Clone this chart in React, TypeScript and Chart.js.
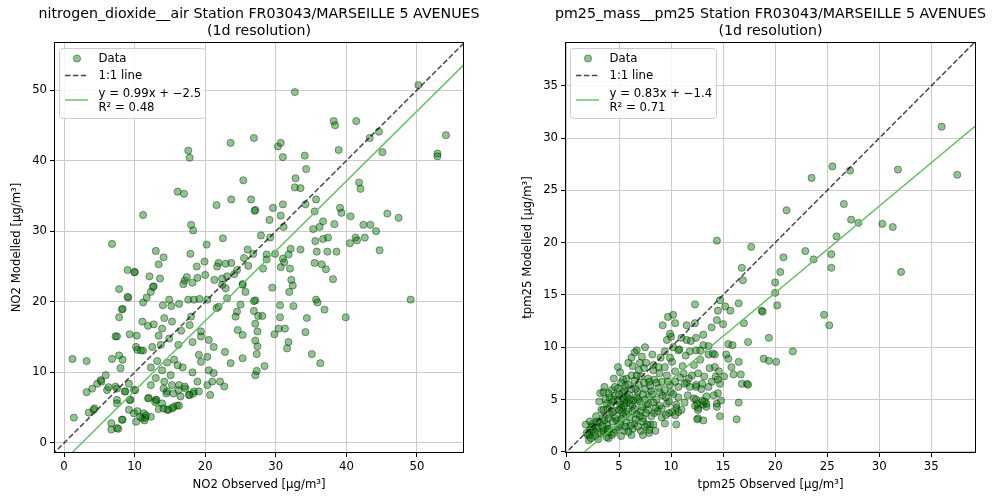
import { useEffect, useRef } from "react";
import { Chart, registerables } from "chart.js";

Chart.register(...registerables);

const FONT = "'DejaVu Sans', 'Liberation Sans', sans-serif";

// ---------- data ----------
const no2Ticks = [0, 10, 20, 30, 40, 50];
const pm25Ticks = [0, 5, 10, 15, 20, 25, 30, 35];

const no2Fit = { slope: 0.99, intercept: -2.5, r2: 0.48 };
const pm25Fit = { slope: 0.83, intercept: -1.4, r2: 0.71 };

// [observed, modelled]
const no2Points: [number, number][] = [
  [32.7, 49.7], [50.2, 50.7], [38.2, 45.6], [38.4, 45.0], [41.4, 45.6], [44.6, 44.1], [43.3, 43.2], [54.1, 43.6],
  [52.9, 41.0], [52.9, 40.6], [45.1, 41.2], [38.9, 41.5], [30.3, 42.0], [30.7, 42.5], [31.0, 40.5], [34.1, 40.7],
  [34.3, 38.8], [32.8, 37.5], [32.7, 36.2], [33.5, 36.1], [41.8, 36.9], [42.0, 36.0], [35.7, 34.5], [34.2, 33.8],
  [35.5, 32.8], [31.0, 33.8], [29.6, 33.3], [30.7, 32.2], [29.1, 31.6], [31.1, 30.6], [27.9, 29.4], [29.2, 29.1],
  [27.1, 33.0], [26.9, 43.2], [39.1, 33.3], [39.3, 32.6], [40.6, 32.1], [38.3, 31.0], [36.7, 31.4], [36.2, 30.6],
  [35.3, 30.3], [42.4, 30.9], [43.4, 30.9], [44.2, 30.0], [45.8, 32.5], [47.4, 31.9], [41.3, 29.1], [42.6, 29.1],
  [41.5, 28.7], [40.5, 28.3], [44.7, 27.3], [35.6, 28.6], [36.7, 28.9], [37.4, 29.1], [33.5, 27.4], [35.8, 27.1],
  [37.3, 27.1], [38.6, 27.1], [32.1, 27.5], [31.8, 26.7], [31.0, 26.1], [31.2, 25.6], [30.7, 24.9], [32.0, 24.7],
  [29.9, 26.8], [28.7, 26.7], [28.7, 26.0], [28.2, 24.7], [35.5, 25.5], [36.5, 25.3], [37.1, 24.6], [38.1, 23.2],
  [32.2, 23.1], [32.4, 22.3], [31.9, 21.4], [29.5, 22.0], [27.1, 20.2], [30.6, 19.5], [32.5, 19.4], [35.7, 20.3],
  [35.9, 19.9], [36.9, 18.9], [49.1, 20.3], [39.9, 17.8], [27.5, 18.0], [28.1, 18.0], [27.1, 16.9], [27.4, 15.8],
  [27.1, 14.5], [27.4, 13.7], [27.3, 12.6], [27.1, 9.6], [27.3, 10.2], [30.6, 17.8], [34.4, 17.7], [30.4, 16.2],
  [29.8, 15.4], [31.3, 16.2], [34.2, 15.7], [31.8, 14.3], [31.6, 13.4], [35.1, 12.6], [36.3, 11.3], [28.4, 10.9],
  [17.6, 41.4], [17.8, 40.4], [23.6, 42.5], [25.4, 37.2], [16.1, 35.6], [17.0, 35.3], [23.7, 34.5], [26.5, 34.5],
  [27.0, 32.9], [21.6, 33.7], [11.2, 32.3], [18.0, 30.9], [18.3, 30.1], [22.5, 29.0], [20.2, 28.1], [6.8, 28.2],
  [13.0, 27.2], [14.1, 26.3], [13.4, 25.3], [17.9, 26.8], [18.8, 25.0], [19.9, 25.7], [9.0, 24.5], [10.0, 24.2],
  [12.1, 23.6], [13.6, 23.3], [17.1, 23.0], [17.4, 23.5], [16.9, 22.5], [18.2, 22.7], [18.9, 23.4], [20.0, 23.8],
  [21.9, 25.5], [21.7, 25.0], [22.9, 25.4], [23.7, 25.5], [26.0, 27.4], [26.8, 26.8], [25.5, 26.2], [26.1, 25.1],
  [24.5, 24.5], [24.1, 23.9], [23.1, 23.6], [22.4, 23.3], [21.3, 23.1], [25.3, 22.5], [12.7, 22.2], [7.8, 21.8],
  [9.1, 20.6], [11.2, 19.9], [11.7, 20.6], [12.3, 21.4], [12.6, 22.1], [8.3, 19.0], [7.8, 17.8], [14.0, 19.5],
  [14.9, 20.3], [15.2, 19.4], [16.3, 19.7], [17.6, 20.3], [18.4, 20.3], [19.2, 20.4], [20.3, 20.3], [21.6, 19.1],
  [21.9, 19.3], [23.1, 20.5], [22.9, 21.9], [22.4, 22.4], [24.5, 18.6], [24.3, 17.9], [25.0, 19.6], [25.7, 21.4],
  [25.3, 22.4], [26.9, 20.1], [26.9, 18.7], [24.6, 16.0], [25.3, 15.3], [25.3, 12.0], [23.6, 11.3], [22.8, 12.9],
  [11.1, 17.2], [11.9, 16.6], [12.7, 16.8], [13.9, 16.2], [14.2, 17.7], [15.3, 17.2], [16.6, 15.9], [17.8, 16.7],
  [18.0, 17.9], [19.4, 15.8], [7.3, 15.1], [9.3, 15.4], [10.3, 15.2], [10.2, 13.6], [11.2, 13.1], [12.5, 13.6],
  [13.7, 13.9], [13.4, 15.2], [14.9, 14.8], [16.2, 13.9], [18.2, 14.3], [19.4, 15.1], [20.5, 14.6], [21.2, 13.6],
  [1.2, 11.9], [3.2, 11.6], [6.8, 11.9], [7.8, 12.4], [8.3, 11.8], [8.0, 10.6], [10.4, 13.2], [10.9, 13.1],
  [12.3, 10.7], [13.2, 11.6], [13.9, 10.3], [14.6, 11.4], [15.1, 9.6], [15.6, 11.8], [16.1, 11.0], [16.8, 10.7],
  [18.2, 10.0], [19.1, 12.5], [19.4, 11.5], [20.3, 12.2], [20.5, 10.3], [21.2, 9.9], [18.9, 8.7], [20.3, 8.2],
  [22.1, 8.7], [22.7, 8.0], [5.9, 9.6], [5.2, 8.9], [4.7, 8.4], [4.0, 7.7], [3.2, 7.2], [7.3, 8.0],
  [6.1, 7.5], [7.5, 6.1], [8.7, 7.3], [9.2, 8.4], [9.9, 7.5], [9.4, 6.1], [12.3, 8.2], [13.0, 9.2],
  [14.2, 8.7], [14.6, 7.3], [15.3, 8.2], [16.3, 8.2], [17.2, 7.7], [17.7, 6.8], [18.4, 7.3], [16.5, 6.6],
  [12.0, 6.4], [13.0, 6.1], [13.9, 5.6], [14.6, 4.7], [15.3, 4.9], [16.0, 5.3], [1.4, 3.6], [3.5, 4.3],
  [4.2, 4.7], [6.7, 2.8], [7.5, 2.1], [8.3, 3.3], [10.2, 3.0], [11.1, 3.5], [11.3, 4.2], [12.3, 3.7],
  [10.4, 4.5], [11.5, 3.6], [11.6, 3.9], [11.4, 3.2], [13.4, 4.8], [14.1, 4.9], [14.8, 4.7], [15.5, 5.1],
  [16.3, 5.3], [10.8, 3.7], [6.7, 1.9], [7.7, 2.0], [8.2, 3.3], [9.2, 4.7], [9.9, 4.2], [4.3, 4.9],
  [5.3, 8.7], [6.3, 7.9], [7.5, 7.7], [7.5, 5.6], [8.6, 7.3], [9.3, 6.1], [10.1, 7.5], [11.9, 6.3],
  [13.1, 6.1], [12.9, 5.8], [14.1, 7.7], [14.5, 7.0], [15.5, 7.0], [16.2, 7.5], [17.1, 8.0], [17.8, 6.8],
  [18.3, 7.0], [19.1, 7.3], [20.7, 6.8], [21.0, 8.7], [9.0, 20.7], [10.0, 24.2], [7.5, 15.1], [8.2, 18.9],
];

const pm25Points: [number, number][] = [
  [36.0, 31.1], [37.5, 26.5], [31.8, 27.0], [25.5, 27.3], [27.2, 26.9], [23.5, 26.2], [26.6, 23.7], [21.1, 23.1],
  [27.3, 22.2], [28.0, 21.9], [30.3, 21.8], [31.3, 21.5], [25.9, 20.6], [14.4, 20.2], [17.7, 19.6], [22.9, 19.2],
  [20.8, 18.6], [25.4, 18.9], [23.7, 18.4], [25.4, 17.6], [32.1, 17.2], [16.8, 17.6], [16.9, 16.4], [20.5, 17.2],
  [20.0, 16.2], [20.0, 15.2], [20.2, 14.0], [24.7, 13.1], [25.2, 12.1], [21.7, 9.6], [19.4, 10.9], [18.9, 8.9],
  [19.4, 8.7], [20.1, 8.6], [18.7, 13.5], [18.8, 13.4], [16.5, 14.2], [14.7, 14.5], [12.3, 14.1], [15.2, 13.9],
  [14.5, 13.5], [15.7, 13.5], [14.4, 12.6], [13.9, 11.9], [15.0, 12.2], [17.0, 12.3], [17.4, 10.5], [15.5, 10.3],
  [15.9, 10.2], [16.5, 8.6], [15.8, 8.1], [15.3, 9.3], [15.5, 8.9], [16.7, 7.4], [16.0, 7.4], [16.8, 6.5],
  [17.3, 6.5], [12.4, 6.2], [11.5, 6.6], [13.0, 6.5], [14.2, 8.1], [14.3, 7.2], [15.1, 7.2], [14.7, 6.5],
  [14.5, 5.6], [14.4, 4.6], [14.8, 4.9], [16.5, 4.7], [16.3, 3.1], [14.7, 3.4], [14.4, 4.3], [13.1, 4.5],
  [12.6, 4.2], [13.4, 4.3], [12.6, 3.2], [13.1, 3.0], [17.4, 6.4], [14.1, 5.4], [13.4, 4.6], [12.5, 4.6],
  [12.5, 3.1], [12.6, 4.0], [13.0, 4.9], [13.4, 5.3], [12.2, 5.1], [10.5, 2.6], [10.5, 4.2], [10.7, 3.8],
  [10.1, 3.8], [9.8, 3.7], [9.4, 2.7], [8.5, 2.0], [7.9, 1.8], [7.3, 1.6], [7.5, 2.4], [8.0, 2.6],
  [4.0, 1.3], [3.5, 1.8], [2.2, 1.6], [2.1, 1.1], [2.5, 2.1], [3.2, 5.6], [3.5, 5.7], [5.4, 5.6],
  [5.6, 4.9], [5.4, 4.3], [10.4, 12.3], [11.5, 12.1], [12.3, 12.3], [12.4, 10.9], [11.0, 10.9], [11.5, 10.7],
  [13.1, 10.2], [13.6, 10.1], [12.4, 9.7], [13.6, 9.3], [14.2, 9.3], [12.8, 8.8], [9.6, 10.7], [10.0, 11.0],
  [10.2, 10.0], [10.8, 9.8], [9.2, 12.1], [9.9, 11.3], [7.5, 10.0], [6.7, 9.7], [6.2, 9.0], [4.9, 8.1],
  [6.3, 8.2], [7.0, 8.5], [7.6, 8.5], [8.3, 8.3], [8.8, 8.1], [9.4, 8.1], [9.7, 12.9], [10.2, 13.1],
  [13.1, 11.2], [11.9, 10.6], [9.4, 9.6], [10.7, 9.7], [11.8, 9.6], [12.8, 9.7], [14.0, 9.4], [6.5, 9.5],
  [7.2, 9.1], [8.3, 7.8], [8.9, 7.5], [9.6, 7.3], [10.4, 7.7], [11.2, 7.5], [12.0, 7.3], [12.6, 7.5],
  [13.2, 7.2], [13.7, 8.0], [14.6, 7.7], [14.5, 6.9], [13.9, 6.7], [13.6, 6.2], [12.9, 6.0], [12.4, 6.4],
  [11.8, 6.2], [11.3, 6.5], [10.7, 6.2], [10.4, 6.7], [9.7, 6.7], [9.1, 6.7], [8.4, 6.9], [7.8, 7.0],
  [7.1, 7.2], [6.7, 7.3], [6.2, 7.3], [5.7, 7.0], [5.4, 6.9], [4.3, 5.9], [4.9, 6.1], [5.5, 5.8],
  [6.2, 6.0], [6.8, 5.7], [7.5, 6.0], [8.1, 5.8], [8.8, 6.1], [9.4, 5.9], [10.0, 5.7], [4.1, 5.2],
  [4.7, 5.4], [5.4, 5.1], [6.0, 5.4], [6.7, 5.2], [7.3, 5.5], [7.9, 5.3], [8.6, 5.0], [9.2, 5.4],
  [10.7, 5.2], [11.6, 5.4], [12.4, 5.0], [3.8, 4.6], [4.4, 4.8], [5.1, 4.5], [5.7, 4.7], [6.3, 4.4],
  [7.0, 4.8], [7.6, 4.5], [8.3, 4.7], [8.9, 4.4], [9.6, 4.6], [10.5, 4.5], [11.3, 4.7], [12.3, 4.4],
  [13.2, 4.8], [3.3, 4.0], [3.9, 4.1], [4.6, 3.9], [5.2, 4.2], [5.9, 3.8], [6.5, 4.1], [7.1, 3.9],
  [7.8, 4.0], [8.4, 3.7], [9.1, 4.1], [11.0, 4.0], [2.8, 3.4], [3.5, 3.3], [4.1, 3.6], [4.7, 3.2],
  [5.4, 3.5], [6.0, 3.3], [6.7, 3.6], [7.3, 3.2], [8.1, 3.4], [9.1, 3.3], [10.4, 3.5], [2.5, 2.7],
  [3.1, 2.8], [3.8, 2.6], [4.4, 2.9], [5.1, 2.6], [5.7, 2.8], [6.5, 2.7], [7.3, 2.9], [8.3, 2.6],
  [2.2, 2.1], [2.8, 2.2], [3.5, 2.0], [4.1, 2.2], [4.7, 2.1], [5.5, 2.0], [6.3, 2.2], [7.1, 2.0],
  [7.9, 2.1], [2.0, 1.6], [2.7, 1.5], [3.3, 1.7], [4.3, 1.6], [5.2, 1.5], [6.2, 1.6], [2.3, 1.3],
  [3.0, 1.2], [3.8, 1.4], [4.5, 5.0], [5.0, 5.5], [5.8, 5.2], [6.4, 4.9], [4.8, 3.0], [5.3, 3.8],
  [6.1, 2.5], [3.6, 3.0], [4.2, 4.4], [5.6, 6.3], [6.9, 6.4], [7.2, 4.3], [3.0, 2.4], [2.6, 1.9],
  [1.9, 1.8], [4.0, 1.9], [3.1, 4.8], [3.5, 4.0], [2.2, 2.9], [1.8, 2.6], [4.0, 5.6], [4.6, 6.2],
  [5.2, 6.6], [5.9, 6.4], [6.5, 6.8], [7.4, 6.6], [8.0, 6.3], [8.6, 6.6], [3.7, 5.0], [4.9, 4.9],
  [5.5, 4.4], [6.1, 4.6], [6.8, 5.0], [7.5, 5.0], [8.2, 5.5], [8.9, 5.7], [9.5, 5.2], [10.2, 5.5],
  [4.4, 3.8], [5.0, 4.0], [5.7, 3.6], [6.3, 3.9], [7.0, 3.4], [7.6, 3.7], [8.7, 3.9], [9.5, 3.5],
  [4.9, 2.4], [5.6, 2.4], [6.8, 2.4], [7.7, 2.6], [3.9, 2.2], [4.5, 1.8], [5.9, 1.9], [3.4, 2.5],
  [2.9, 2.9], [2.4, 2.4], [6.6, 6.0], [7.9, 6.7], [9.9, 6.4], [10.9, 7.1], [11.7, 7.0], [12.2, 8.3],
  [10.1, 8.6], [11.1, 8.2], [9.0, 9.0], [8.2, 9.3], [11.4, 9.2], [5.9, 8.5], [5.1, 7.6], [4.5, 7.0],
  [3.6, 6.2], [6.0, 5.0], [7.8, 4.6], [8.5, 4.2], [9.8, 4.8], [6.6, 3.1], [5.2, 3.1], [4.0, 3.2],
  [7.4, 8.0], [6.9, 7.8], [9.9, 9.0],
];

// ---------- panels ----------
type PanelDef = {
  title: [string, string];
  xLabel: string;
  yLabel: string;
  points: [number, number][];
  fit: { slope: number; intercept: number; r2: number };
  ticks: number[];
  xRange: [number, number];
  yRange: [number, number];
  canvasLeft: number;
  areaLeft: number;
  areaRight: number;
};

const W = 497;
const H = 500;
const AREA_TOP = 42;
const AREA_BOTTOM = 453;

const panels: PanelDef[] = [
  {
    title: ["nitrogen_dioxide__air Station FR03043/MARSEILLE 5 AVENUES", "(1d resolution)"],
    xLabel: "NO2 Observed [µg/m³]",
    yLabel: "NO2 Modelled [µg/m³]",
    points: no2Points,
    fit: no2Fit,
    ticks: no2Ticks,
    xRange: [-1.42, 56.66],
    yRange: [-1.42, 56.8],
    canvasLeft: 0,
    areaLeft: 54,
    areaRight: 464,
  },
  {
    title: ["pm25_mass__pm25 Station FR03043/MARSEILLE 5 AVENUES", "(1d resolution)"],
    xLabel: "tpm25 Observed [µg/m³]",
    yLabel: "tpm25 Modelled [µg/m³]",
    points: pm25Points,
    fit: pm25Fit,
    ticks: pm25Ticks,
    xRange: [-0.19, 39.3],
    yRange: [-0.12, 39.2],
    canvasLeft: 497,
    areaLeft: 68,
    areaRight: 479,
  },
];

const POINT_FILL = "rgba(0,128,0,0.45)";
const POINT_EDGE = "rgba(0,0,0,0.48)";
const FIT_COLOR = "rgb(108,192,108)";
const DIAG_COLOR = "rgba(0,0,0,0.72)";
const DASH = [5.5, 2.4];

function fmt(v: number) {
  const dec = String(v).includes(".") ? String(v).split(".")[1].length : 0;
  const s = Math.abs(v).toFixed(dec);
  return (v < 0 ? "−" : "") + s;
}

const decorPlugin = {
  id: "decor",
  afterDraw(chart: any, _args: any, opts: any) {
    const p: PanelDef = opts.panel;
    const { ctx, chartArea: a } = chart;
    ctx.save();
    // axes frame
    ctx.strokeStyle = "#000";
    ctx.lineWidth = 1;
    ctx.strokeRect(Math.round(a.left) + 0.5, Math.round(a.top) + 0.5, Math.round(a.right - a.left) - 1, Math.round(a.bottom - a.top) - 1);

    const cx = (a.left + a.right) / 2;
    ctx.fillStyle = "#000";
    ctx.textAlign = "center";
    ctx.textBaseline = "middle";
    ctx.font = `14.2px ${FONT}`;
    ctx.fillText(p.title[0], cx, 14);
    ctx.fillText(p.title[1], cx, 31.5);

    ctx.font = `11.7px ${FONT}`;
    ctx.fillText(p.xLabel, cx, 485);
    ctx.save();
    ctx.translate(a.left - 37.5, (a.top + a.bottom) / 2);
    ctx.rotate(-Math.PI / 2);
    ctx.fillText(p.yLabel, 0, 0);
    ctx.restore();

    // legend
    const bx = a.left + 5.5;
    const by = 48.5;
    const bw = 146;
    const bh = 70;
    ctx.beginPath();
    (ctx as any).roundRect(bx, by, bw, bh, 3);
    ctx.fillStyle = "rgba(255,255,255,0.8)";
    ctx.fill();
    ctx.strokeStyle = "#cccccc";
    ctx.lineWidth = 1;
    ctx.stroke();

    const lx0 = a.left + 11;
    const lx1 = a.left + 34;
    const tx = a.left + 44.5;

    // Data marker
    ctx.beginPath();
    ctx.arc(a.left + 23, 58.5, 3.6, 0, Math.PI * 2);
    ctx.fillStyle = POINT_FILL;
    ctx.fill();
    ctx.strokeStyle = POINT_EDGE;
    ctx.lineWidth = 0.8;
    ctx.stroke();

    // 1:1 dashed
    ctx.beginPath();
    ctx.setLineDash(DASH);
    ctx.moveTo(lx0, 75.5);
    ctx.lineTo(lx1, 75.5);
    ctx.strokeStyle = DIAG_COLOR;
    ctx.lineWidth = 1.5;
    ctx.stroke();
    ctx.setLineDash([]);

    // fit line
    ctx.beginPath();
    ctx.moveTo(lx0, 100);
    ctx.lineTo(lx1, 100);
    ctx.strokeStyle = FIT_COLOR;
    ctx.lineWidth = 1.5;
    ctx.stroke();

    ctx.fillStyle = "#000";
    ctx.textAlign = "left";
    ctx.font = `11.7px ${FONT}`;
    ctx.fillText("Data", tx, 58.5);
    ctx.fillText("1:1 line", tx, 75.5);
    ctx.fillText(`y = ${p.fit.slope.toFixed(2)}x + ${fmt(p.fit.intercept)}`, tx, 94);
    ctx.fillText(`R² = ${p.fit.r2.toFixed(2)}`, tx, 107.5);
    ctx.restore();
  },
};

function makeConfig(p: PanelDef): any {
  const lo = Math.min(p.xRange[0], p.yRange[0]) - 5;
  const hi = Math.max(p.xRange[1], p.yRange[1]) + 5;
  const tickObjs = () => p.ticks.map((v) => ({ value: v }));
  const axisCommon = (isX: boolean, range: [number, number]) => ({
    type: "linear",
    min: range[0],
    max: range[1],
    afterBuildTicks: (s: any) => {
      s.ticks = tickObjs();
    },
    afterFit: (s: any) => {
      if (isX) s.height = H - AREA_BOTTOM;
      else s.width = p.areaLeft;
    },
    grid: {
      color: "#cbcbcb",
      lineWidth: 1,
      drawTicks: true,
      tickLength: 4,
      tickColor: "#000",
      tickWidth: 1,
    },
    border: { display: false },
    ticks: {
      color: "#000",
      padding: 3,
      font: { family: FONT, size: 11.7 },
      maxRotation: 0,
      autoSkip: false,
      callback: (v: number) => String(v),
    },
    title: { display: false },
  });
  return {
    type: "scatter",
    data: {
      datasets: [
        {
          type: "line",
          data: [
            { x: lo, y: p.fit.slope * lo + p.fit.intercept },
            { x: hi, y: p.fit.slope * hi + p.fit.intercept },
          ],
          borderColor: FIT_COLOR,
          borderWidth: 1.5,
          pointRadius: 0,
          fill: false,
          clip: 0,
          order: 0,
        },
        {
          type: "line",
          data: [
            { x: lo, y: lo },
            { x: hi, y: hi },
          ],
          borderColor: DIAG_COLOR,
          borderWidth: 1.5,
          borderDash: DASH,
          pointRadius: 0,
          fill: false,
          clip: 0,
          order: 1,
        },
        {
          type: "scatter",
          data: p.points.map(([x, y]) => ({ x, y })),
          backgroundColor: POINT_FILL,
          borderColor: POINT_EDGE,
          borderWidth: 0.8,
          pointRadius: 3.6,
          pointHoverRadius: 3.6,
          clip: 0,
          order: 2,
        },
      ],
    },
    options: {
      responsive: false,
      animation: false,
      devicePixelRatio: 1,
      events: [],
      layout: {
        autoPadding: false,
        padding: { left: 0, top: AREA_TOP, right: W - p.areaRight, bottom: 0 },
      },
      plugins: {
        legend: { display: false },
        tooltip: { enabled: false },
        title: { display: false },
        decor: { panel: p },
      },
      scales: {
        x: axisCommon(true, p.xRange),
        y: axisCommon(false, p.yRange),
      },
    },
    plugins: [decorPlugin],
  };
}

function ScatterPanel({ panel }: { panel: PanelDef }) {
  const ref = useRef<HTMLCanvasElement | null>(null);
  useEffect(() => {
    if (!ref.current) return;
    const chart = new Chart(ref.current, makeConfig(panel));
    return () => chart.destroy();
  }, [panel]);
  return (
    <canvas
      ref={ref}
      width={W}
      height={H}
      style={{ position: "absolute", left: panel.canvasLeft, top: 0, width: W, height: H }}
    />
  );
}

export default function App() {
  return (
    <div style={{ position: "absolute", left: 0, top: 0, width: 994, height: 500, background: "#fff" }}>
      {panels.map((p, i) => (
        <ScatterPanel key={i} panel={p} />
      ))}
    </div>
  );
}
